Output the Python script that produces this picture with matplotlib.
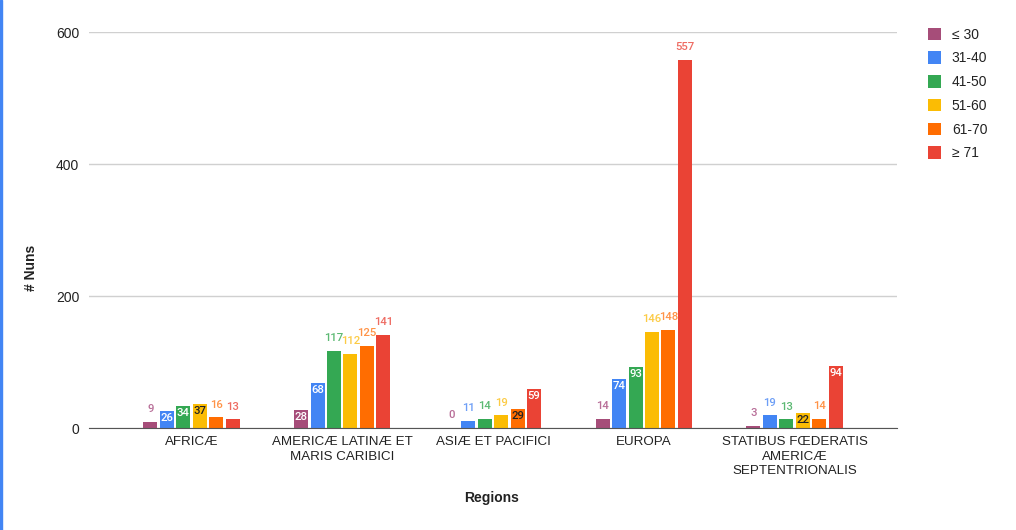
import numpy as np
import matplotlib.pyplot as plt

regions = ['AFRICÆ', 'AMERICÆ LATINÆ ET\nMARIS CARIBICI', 'ASIÆ ET PACIFICI',
           'EUROPA', 'STATIBUS FŒDERATIS\nAMERICÆ\nSEPTENTRIONALIS']
age_groups = ['≤ 30', '31-40', '41-50', '51-60', '61-70', '≥ 71']
le30 = [9, 28, 0, 14, 3]
a31_40 = [26, 68, 11, 74, 19]
a41_50 = [34, 117, 14, 93, 13]
a51_60 = [37, 112, 19, 146, 22]
a61_70 = [16, 125, 29, 148, 14]
ge71 = [13, 141, 59, 557, 94]
series = [le30, a31_40, a41_50, a51_60, a61_70, ge71]

colors = ['#a64d79', '#4285f4', '#34a853', '#fbbc04', '#ff6d01', '#ea4335']
label_out = ['#b86e98', '#6d9ef6', '#5cb973', '#fccb45', '#ff9347', '#ee6c63']
label_in = ['white', 'white', 'white', '#222222', '#222222', 'white']

plt.rcParams['font.family'] = ['Liberation Sans', 'DejaVu Sans']

fig = plt.figure(figsize=(10.16, 5.3), dpi=100)
ax = fig.add_axes([89/1016, 1-428/530, 808/1016, 396/530])

x = np.arange(len(regions))
step = 0.109
width = 0.093
for i, vals in enumerate(series):
    pos = x + (i - 2.5) * step
    ax.bar(pos, vals, width, color=colors[i], label=age_groups[i], zorder=3)
    for p, v in zip(pos, vals):
        if v >= 20 and v < 100:
            ax.text(p, v - 3, str(v), ha='center', va='top', fontsize=8.2,
                    color=label_in[i], fontweight='medium', family='Roboto', zorder=4)
        else:
            ax.text(p, v + 12, str(v), ha='center', va='bottom', fontsize=8.2,
                    color=label_out[i], fontweight='medium', family='Roboto', zorder=4)

ax.set_xlim(-0.68, 4.68)
ax.set_ylim(0, 600)
ax.set_yticks([0, 200, 400, 600])
ax.tick_params(axis='y', length=0, pad=7, labelsize=10, labelcolor='#222222')
ax.tick_params(axis='x', length=0, pad=6, labelsize=9.6, labelcolor='#222222')
ax.set_xticks(x)
ax.set_xticklabels(regions, linespacing=1.25)
ax.grid(axis='y', color='#d0d0d0', linewidth=1, zorder=0)
for s in ['top', 'right', 'left']:
    ax.spines[s].set_visible(False)
ax.spines['bottom'].set_color('#555555')
ax.spines['bottom'].set_zorder(5)

fig.text(31/1016, 1-268/530, '# Nuns', rotation=90, ha='center', va='center',
         fontsize=10, fontweight='bold', color='#222222')
fig.text(492/1016, 1-498/530, 'Regions', ha='center', va='center',
         fontsize=10, fontweight='bold', color='#222222')

leg = ax.legend(loc='upper left', bbox_to_anchor=(833/808, 1.025), frameon=False,
                fontsize=10, handlelength=1.0, handleheight=1.0, labelspacing=0.7,
                handletextpad=0.75, borderaxespad=0)
for t in leg.get_texts():
    t.set_color('#222222')

fig.patches.append(plt.Rectangle((0, 0), 2/1016, 1, transform=fig.transFigure,
                                 color='#4285f4', zorder=10))

fig.savefig('out.png', dpi=100)
